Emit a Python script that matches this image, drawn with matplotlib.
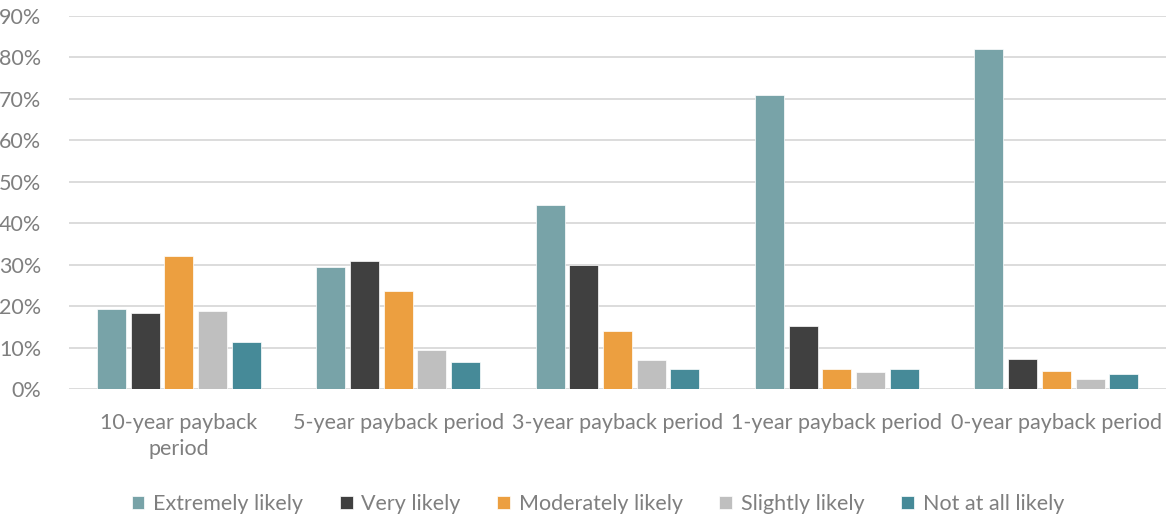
import numpy as np
import matplotlib
matplotlib.use("Agg")
import matplotlib.pyplot as plt
from matplotlib.ticker import PercentFormatter

# payback period categories
categories = ["10-year payback\nperiod", "5-year payback period", "3-year payback period",
              "1-year payback period", "0-year payback period"]

# share of respondents (%) per likelihood answer
extremely_likely = [19.2, 29.4, 44.5, 71.0, 82.1]
very_likely = [18.4, 30.9, 29.9, 15.1, 7.3]
moderately_likely = [32.2, 23.7, 14.0, 4.8, 4.4]
slightly_likely = [18.8, 9.3, 6.9, 4.0, 2.4]
not_at_all_likely = [11.4, 6.5, 4.8, 4.8, 3.7]

series_names = ["Extremely likely", "Very likely", "Moderately likely",
                "Slightly likely", "Not at all likely"]
series = [extremely_likely, very_likely, moderately_likely, slightly_likely, not_at_all_likely]
colors = ["#78A3A8", "#404040", "#EC9F40", "#BFBFBF", "#468A98"]

text_col = "#7F7F7F"
plt.rcParams["font.family"] = ["Lato", "DejaVu Sans"]

fig = plt.figure(figsize=(11.72, 5.18), dpi=100)
ax = fig.add_axes([0.0589, 0.249, 0.936, 0.72])

x = np.arange(len(categories))
step = 0.1536
for i, (name, vals, c) in enumerate(zip(series_names, series, colors)):
    ax.bar(x + (i - 2) * step, vals, width=step * 0.86, color=c, label=name,
           edgecolor="white", linewidth=0.5, zorder=3)

ax.set_xlim(-0.5, len(categories) - 0.5)
ax.set_ylim(0, 90)
ax.set_yticks(np.arange(0, 91, 10))
ax.yaxis.set_major_formatter(PercentFormatter(decimals=0))
ax.grid(axis="y", color="#D9D9D9", linewidth=1.3, zorder=0)
for s in ax.spines.values():
    s.set_visible(False)
ax.tick_params(axis="both", length=0, labelsize=15.5, labelcolor=text_col)
ax.tick_params(axis="y", pad=20)
ax.tick_params(axis="x", pad=17)
ax.set_xticks(x)
ax.set_xticklabels(categories, linespacing=1.4)

fig.legend(loc="lower center", ncol=5, frameon=False, fontsize=15.5,
           labelcolor=text_col, handlelength=0.6, handleheight=0.6,
           handletextpad=0.4, columnspacing=1.7, bbox_to_anchor=(0.51, -0.03))

fig.savefig("out.png", dpi=100)
